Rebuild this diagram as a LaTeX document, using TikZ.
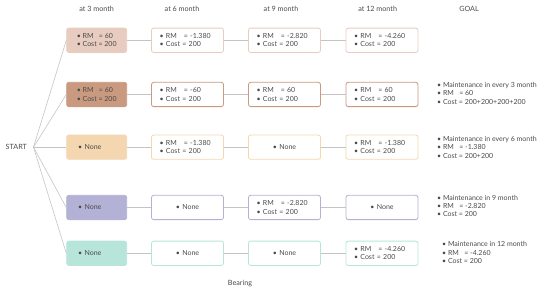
\documentclass[tikz,border=0pt]{standalone}
\usepackage{fontspec}
\setmainfont{Lato}
\definecolor{txt}{HTML}{4A4A4A}
\definecolor{lnc}{HTML}{C4C4C4}
\definecolor{ca}{HTML}{E8CCC0}
\definecolor{cb}{HTML}{C99A80}
\definecolor{cc}{HTML}{F4D6B0}
\definecolor{cd}{HTML}{B3B1D6}
\definecolor{ce}{HTML}{B8E5DA}
\newcommand{\rmv}[1]{•\ RM\ \ \ = #1\\•\ Cost = 200}
\newcommand{\nn}{•\ None}
\begin{document}
\begin{tikzpicture}[x=1pt,y=-1pt,
  font=\fontsize{7}{8.3}\selectfont, text=txt,
  bx/.style={draw=#1, rounded corners=2.2pt, line width=0.8pt, minimum height=24.3pt,
    text width=56pt, inner xsep=8pt, inner ysep=0pt, align=left},
  bxc/.style={bx=#1, align=center},
  fb/.style={draw=#1, fill=#1, rounded corners=2.2pt, line width=0.8pt, minimum height=24.3pt,
    text width=37pt, inner xsep=11.5pt, inner ysep=0pt, align=left},
  fbr/.style={draw=#1, fill=#1, rounded corners=2.2pt, line width=0.8pt, minimum height=24.3pt,
    minimum width=60pt, inner xsep=0pt, inner ysep=0pt, align=left},
  ln/.style={draw=lnc, line width=0.6pt},
  hd/.style={font=\fontsize{7.2}{8.4}\selectfont},
  gl/.style={anchor=west, align=left, inner sep=0pt}]
\useasboundingbox (0,0) rectangle (550,291);
% headers
\node[hd] (h1) at (96.7,8.7) {at 3 month};
\node[hd] (h2) at (182,8.7) {at 6 month};
\node[hd] (h3) at (281,8.7) {at 9 month};
\node[hd] (h4) at (377.7,8.7) {at 12 month};
\node[hd] (h5) at (469,8.7) {GOAL};
\node[hd] (start) at (16.3,147.2) {START};
\node[hd] (bear) at (240,283.8) {Bearing};
\coordinate (s) at (33.5,147.2);
% row 1
\node[fbr=ca] (a1) at (96.7,40.3) {\rmv{60}};
\node[bx=ca] (a2) at (187.5,40.3) {\rmv{-1.380}};
\node[bx=ca] (a3) at (284.5,40.3) {\rmv{-2.820}};
\node[bx=ca] (a4) at (382,40.3) {\rmv{-4.260}};
% row 2
\node[fbr=cb] (b1) at (96.7,94.5) {\rmv{60}};
\node[bx=cb] (b2) at (187.5,94.5) {\rmv{-60}};
\node[bx=cb] (b3) at (284.5,94.5) {\rmv{60}};
\node[bx=cb] (b4) at (382,94.5) {\rmv{60}};
% row 3
\node[fb=cc] (c1) at (96.7,147.2) {\nn};
\node[bx=cc] (c2) at (187.5,147.2) {\rmv{-1.380}};
\node[bxc=cc] (c3) at (284.5,147.2) {\nn};
\node[bx=cc] (c4) at (382,147.2) {\rmv{-1.380}};
% row 4
\node[fb=cd] (d1) at (96.7,207.5) {\nn};
\node[bxc=cd] (d2) at (187.5,207.5) {\nn};
\node[bx=cd] (d3) at (284.5,207.5) {\rmv{-2.820}};
\node[bxc=cd] (d4) at (382,207.5) {\nn};
% row 5
\node[fb=ce] (e1) at (96.7,253.3) {\nn};
\node[bxc=ce] (e2) at (187.5,253.3) {\nn};
\node[bxc=ce] (e3) at (284.5,253.3) {\nn};
\node[bx=ce] (e4) at (382,253.3) {\rmv{-4.260}};
% connectors
\foreach \r in {a,b,c,d,e}{
  \draw[ln] (s) -- (\r1.west);
  \draw[ln] (\r1.east) -- (\r2.west);
  \draw[ln] (\r2.east) -- (\r3.west);
  \draw[ln] (\r3.east) -- (\r4.west);
}
% goals
\node[gl] (g2) at (437,93.3) {•\ Maintenance in every 3 month\\•\ RM\ \ \ = 60\\•\ Cost = 200+200+200+200};
\node[gl] (g3) at (437,147.4) {•\ Maintenance in every 6 month\\•\ RM\ \ \ = -1.380\\•\ Cost = 200+200};
\node[gl] (g4) at (437,206) {•\ Maintenance in 9 month\\•\ RM\ \ \ = -2.820\\•\ Cost = 200};
\node[gl] (g5) at (442,252.7) {•\ Maintenance in 12 month\\•\ RM\ \ \ = -4.260\\•\ Cost = 200};
\end{tikzpicture}
\end{document}
